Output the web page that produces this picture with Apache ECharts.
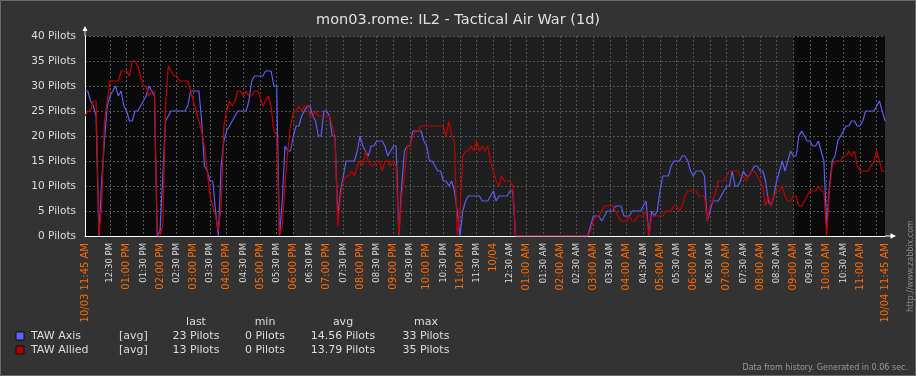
<!DOCTYPE html>
<html>
<head>
<meta charset="utf-8">
<title>mon03.rome: IL2 - Tactical Air War (1d)</title>
<script src="https://cdn.jsdelivr.net/npm/echarts@6/dist/echarts.min.js"></script>
<style>
  html, body { margin: 0; padding: 0; background: #333333; }
  #chart { width: 916px; height: 376px; }
</style>
</head>
<body>
<div id="chart"></div>
<script>
// one sample every 5 min, 10/03 11:45 AM -> 10/04 11:45 AM (one row = 1 hour)
var tawAxis = [
  29,29,27,26,24,0,11,19,26,28,29,30,
  28,29,26,25,23,23,25,25,26,27,28,30,
  29,28,0,1,12,23,24,25,25,25,25,25,
  25,26,29,29,29,29,23,14,13,11,11,5,
  0,14,19,21,22,23,24,25,25,25,25,27,
  31,32,32,32,32,33,33,33,30,30,0,7,
  18,17,17,20,22,22,24,25,26,26,24,23,
  20,20,25,25,24,20,20,4,9,12,15,15,
  15,15,17,20,18,17,16,18,18,19,19,19,
  18,16,17,18,18,0,10,17,18,18,21,21,
  21,21,19,18,15,15,14,13,13,11,11,10,
  11,9,5,0,5,7,8,8,8,8,8,7,
  7,7,8,9,7,8,8,8,8,9,9,0,
  0,0,0,0,0,0,0,0,0,0,0,0,
  0,0,0,0,0,0,0,0,0,0,0,0,
  0,0,2,4,4,4,3,4,5,5,5,6,
  6,6,4,4,4,5,5,5,5,6,7,0,
  5,4,5,9,12,12,12,14,15,15,15,16,
  16,15,13,12,13,13,13,12,3,5,7,7,
  7,8,9,10,10,13,10,10,11,13,12,12,
  13,14,14,13,13,11,7,6,8,11,13,15,
  13,15,17,16,16,20,21,20,19,19,18,18,
  19,17,15,2,10,15,16,19,20,21,22,22,
  23,23,22,22,23,25,25,25,25,26,27,25,
  23
];
var tawAllied = [
  24,25,25,27,27,0,6,23,27,31,31,31,
  31,33,33,33,32,35,35,34,32,30,30,28,
  29,29,0,0,2,26,34,33,32,32,31,31,
  31,31,29,27,25,23,21,18,13,8,6,4,
  1,6,22,25,27,26,27,29,29,28,29,28,
  28,29,29,28,26,27,28,26,21,20,0,2,
  10,17,22,25,25,26,25,26,26,24,24,25,
  24,24,24,24,24,22,20,2,8,11,12,12,
  13,12,14,15,14,17,15,14,14,15,15,13,
  15,15,14,15,14,0,8,12,18,18,20,21,
  21,22,22,22,22,22,22,22,22,22,20,23,
  20,19,0,5,16,17,17,18,17,19,17,18,
  17,18,15,13,11,10,12,11,11,11,10,0,
  0,0,0,0,0,0,0,0,0,0,0,0,
  0,0,0,0,0,0,0,0,0,0,0,0,
  0,0,1,3,4,4,5,6,6,6,6,5,
  4,3,3,3,4,3,3,4,4,4,5,0,
  4,4,4,4,4,5,5,5,6,6,5,6,
  8,9,9,9,9,8,8,8,3,6,7,9,
  11,11,11,12,13,13,13,13,12,12,11,12,
  13,13,12,11,10,6,8,6,8,9,9,10,
  8,7,7,8,8,6,6,7,8,9,9,9,
  10,9,9,0,9,14,15,15,15,16,16,17,
  16,17,14,13,13,13,13,14,15,17,15,13,
  13
];

var startLabel = '10/03 11:45 AM';
var endLabel = '10/04 11:45 AM';
var halfHourLabels = [
  '12:30 PM','01:00 PM','01:30 PM','02:00 PM','02:30 PM','03:00 PM','03:30 PM',
  '04:00 PM','04:30 PM','05:00 PM','05:30 PM','06:00 PM','06:30 PM','07:00 PM',
  '07:30 PM','08:00 PM','08:30 PM','09:00 PM','09:30 PM','10:00 PM','10:30 PM',
  '11:00 PM','11:30 PM','10/04','12:30 AM','01:00 AM','01:30 AM','02:00 AM',
  '02:30 AM','03:00 AM','03:30 AM','04:00 AM','04:30 AM','05:00 AM','05:30 AM',
  '06:00 AM','06:30 AM','07:00 AM','07:30 AM','08:00 AM','08:30 AM','09:00 AM',
  '09:30 AM','10:00 AM','10:30 AM','11:00 AM'
];
// sample index ranges outside the work period (darker background)
var nightSpans = [[0, 75], [255, 288]];

var statHeaders = ['last', 'min', 'avg', 'max'];
var axisStats = ['23 Pilots', '0 Pilots', '14.56 Pilots', '33 Pilots'];
var alliedStats = ['13 Pilots', '0 Pilots', '13.79 Pilots', '35 Pilots'];

var slots = tawAxis.map(function (v, i) { return String(i); });
var lastSlot = slots.length - 1;

function tickLabel(i) {
  if (i === 0) return startLabel;
  if (i === lastSlot) return endLabel;
  if (i >= 9 && (i - 9) % 6 === 0) return halfHourLabels[(i - 9) / 6] || '';
  return '';
}
function isMajor(l) {
  return l === startLabel || l === endLabel || l === '10/04' || l.indexOf(':00') > 0;
}

var font = 'DejaVu Sans';
var colCenters = [196, 265, 343, 426];
// arrow head with a short stem, so the axis line seems to run into it
var arrowPath = 'path://M5,0 L10,10 L5.8,10 L5.8,20 L4.2,20 L4.2,10 L0,10 Z';

var graphics = [
  { type: 'rect', shape: { x: 0.5, y: 0.5, width: 915, height: 375 },
    style: { fill: 'none', stroke: '#6a6a6a' }, silent: true }
];
statHeaders.forEach(function (h, i) {
  graphics.push({ type: 'text', x: colCenters[i], y: 322,
    style: { text: h, fill: '#dddddd', font: '11px ' + font, align: 'center', verticalAlign: 'middle' } });
});
[[tawAxis, 'TAW Axis', '#6060ff', axisStats, 336], [tawAllied, 'TAW Allied', '#b00000', alliedStats, 350]].forEach(function (row) {
  graphics.push({ type: 'rect', shape: { x: 16, y: row[4] - 4, width: 8, height: 8 },
    style: { fill: row[2], stroke: '#111' } });
  graphics.push({ type: 'text', x: 31, y: row[4],
    style: { text: row[1], fill: '#dddddd', font: '11px ' + font, verticalAlign: 'middle' } });
  graphics.push({ type: 'text', x: 119, y: row[4],
    style: { text: '[avg]', fill: '#dddddd', font: '11px ' + font, verticalAlign: 'middle' } });
  row[3].forEach(function (s, i) {
    graphics.push({ type: 'text', x: colCenters[i], y: row[4],
      style: { text: s, fill: '#dddddd', font: '11px ' + font, align: 'center', verticalAlign: 'middle' } });
  });
});
graphics.push({ type: 'text', x: 908, y: 368,
  style: { text: 'Data from history. Generated in 0.06 sec.', fill: '#9a9a9a', font: '8px ' + font, align: 'right', verticalAlign: 'middle' } });
graphics.push({ type: 'text', x: 911, y: 266, rotation: Math.PI / 2,
  style: { text: 'http://www.zabbix.com', fill: '#8a8a8a', font: '8px ' + font, align: 'center', verticalAlign: 'middle' } });

var chart = echarts.init(document.getElementById('chart'));
chart.setOption({
  backgroundColor: '#333333',
  animation: false,
  textStyle: { fontFamily: font },
  title: {
    text: 'mon03.rome: IL2 - Tactical Air War (1d)',
    left: 'center', top: 8,
    textStyle: { color: '#e0e0e0', fontSize: 14.5, fontWeight: 'normal', fontFamily: font }
  },
  grid: { left: 85, top: 36, width: 800, height: 200, show: true, backgroundColor: '#1f1f1f', borderWidth: 0 },
  xAxis: {
    type: 'category',
    data: slots,
    boundaryGap: false,
    z: 1,
    axisLine: { lineStyle: { color: '#ffffff', width: 1 }, symbol: ['none', arrowPath], symbolSize: [7, 11], symbolOffset: [0, 5.5] },
    axisTick: { show: false },
    axisLabel: {
      rotate: 90,
      margin: 7,
      interval: function (i) { return tickLabel(i) !== ''; },
      formatter: function (v, i) {
        var l = tickLabel(i);
        return isMajor(l) ? '{h|' + l + '}' : '{m|' + l + '}';
      },
      rich: {
        h: { color: '#ff6a00', fontSize: 10, fontFamily: font },
        m: { color: '#dddddd', fontSize: 8.5, fontFamily: font }
      }
    },
    splitLine: {
      show: true,
      interval: function (i) { return i >= 9 && i < lastSlot && (i - 9) % 6 === 0; },
      lineStyle: { color: '#555555', type: [2, 2] }
    }
  },
  yAxis: {
    type: 'value',
    min: 0, max: 40, interval: 5,
    z: 1,
    axisLine: { show: true, lineStyle: { color: '#ffffff', width: 1 }, symbol: ['none', arrowPath], symbolSize: [6, 10], symbolOffset: [0, 5] },
    axisTick: { show: false },
    axisLabel: { formatter: '{value} Pilots', color: '#dddddd', fontSize: 10.5, margin: 9 },
    splitLine: { lineStyle: { color: '#555555', type: [2, 2] } }
  },
  series: [
    {
      name: 'TAW Axis', type: 'line', data: tawAxis,
      showSymbol: false, z: 2,
      lineStyle: { color: '#5c5cf2', width: 1.2 },
      markArea: {
        silent: true, z: 0.5,
        itemStyle: { color: '#0a0a0a' },
        data: nightSpans.map(function (s) { return [{ xAxis: s[0] }, { xAxis: s[1] }]; })
      }
    },
    {
      name: 'TAW Allied', type: 'line', data: tawAllied,
      showSymbol: false, z: 3,
      lineStyle: { color: '#c40000', width: 1.2 }
    }
  ],
  graphic: graphics
});
</script>
</body>
</html>
